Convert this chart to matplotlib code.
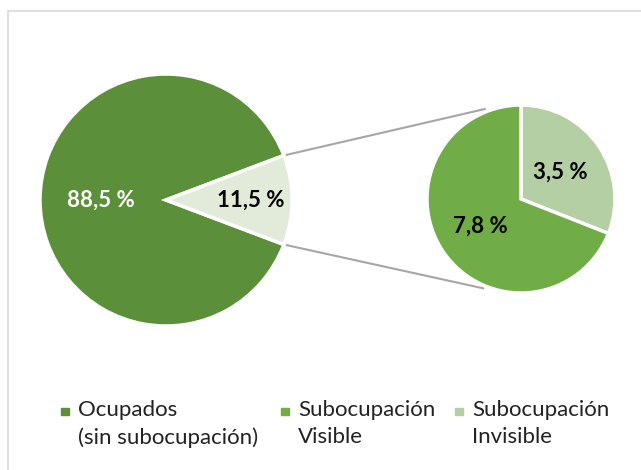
"""
Pie-of-pie: ocupados vs subocupación (visible / invisible)
"""
import numpy as np
import matplotlib.pyplot as plt
from matplotlib.patches import Rectangle

# data
main_labels = ['88,5 %', '11,5 %']
main_values = [88.5, 11.5]
sub_labels = ['3,5 %', '7,8 %']
sub_values = [3.5, 7.8]
legend_labels = ['Ocupados\n(sin subocupación)', 'Subocupación\nVisible', 'Subocupación\nInvisible']

c_dark = '#5b8f3a'
c_mid = '#70ad47'
c_light = '#b4cfa3'
c_pale = '#e2ebda'

plt.rcParams['font.family'] = ['Lato', 'DejaVu Sans']

W, H = 641, 470
fig = plt.figure(figsize=(W / 100, H / 100), dpi=100, facecolor='white')
ax = fig.add_axes([0, 0, 1, 1])

# frame
ax.add_patch(Rectangle((8, -10), W, H - 11 + 10, fill=False, ec='#d9d9d9', lw=1.2))

# main pie
c1, r1 = (166, 270), 126
w1, _ = ax.pie(main_values, colors=[c_dark, c_pale], startangle=main_values[1] / 100 * 180,
               center=c1, radius=r1, frame=True,
               wedgeprops=dict(edgecolor='white', linewidth=2.5))

# second pie
c2, r2 = (521, 271), 94
w2, _ = ax.pie(sub_values, colors=[c_light, c_mid], startangle=90, counterclock=False,
               center=c2, radius=r2, frame=True,
               wedgeprops=dict(edgecolor='white', linewidth=2.5))
ax.set_xlim(0, W)
ax.set_ylim(0, H)
ax.axis('off')


def put_labels(wedges, labels, center, radius, dists, colors):
    for w, lab, d, col in zip(wedges, labels, dists, colors):
        a = np.deg2rad((w.theta1 + w.theta2) / 2)
        x = center[0] + d * radius * np.cos(a)
        y = center[1] + d * radius * np.sin(a)
        ax.text(x, y, lab, ha='center', va='center', fontsize=16,
                fontweight='bold', color=col)


put_labels(w1, main_labels, c1, r1, [0.52, 0.67], ['white', 'black'])
put_labels(w2, sub_labels, c2, r2, [0.51, 0.52], ['black', 'black'])

# connector lines
small = w1[1]
for t1, t2 in [(small.theta2, 112), (small.theta1, -113)]:
    a1, a2 = np.deg2rad(t1), np.deg2rad(t2)
    x0, y0 = c1[0] + r1 * np.cos(a1), c1[1] + r1 * np.sin(a1)
    x1, y1 = c2[0] + (r2 + 3) * np.cos(a2), c2[1] + (r2 + 3) * np.sin(a2)
    ax.plot([x0, x1], [y0, y1], color='#a6a6a6', lw=1.5, zorder=0.5)

# legend
for lab, col, xs in zip(legend_labels, [c_dark, c_mid, c_light], [61, 281, 455]):
    ax.add_patch(Rectangle((xs, H - 415), 7.5, 7.5, color=col))
    ax.text(xs + 17, H - 400, lab, ha='left', va='top', fontsize=16,
            linespacing=1.45, color='#222222')

fig.savefig('out.png', dpi=100, facecolor='white')
